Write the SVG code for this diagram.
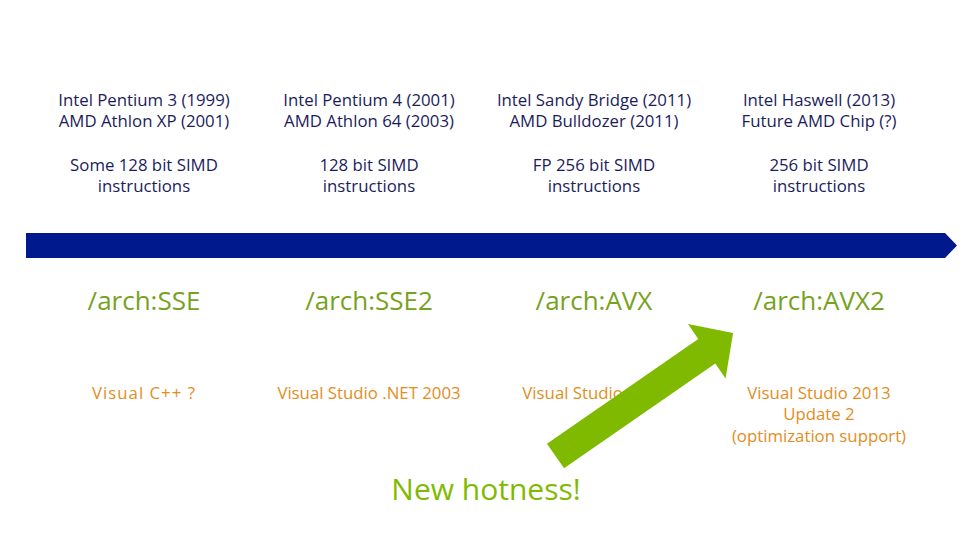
<svg xmlns="http://www.w3.org/2000/svg" width="979" height="551" viewBox="0 0 979 551">
<style>
text{font-family:"Open Sans","Noto Sans","Liberation Sans",sans-serif;text-anchor:middle}
.cpu{font-size:16.8px;fill:#1c1c5c}
.arch{font-size:26px;fill:#76a21e}
.vs{font-size:16.8px;fill:#e38d1c}
.hot{font-size:30px;fill:#7fba00}
</style>
<rect width="979" height="551" fill="#ffffff"/>
<g id="timeline">
<polygon points="26,233 945,233 957,245.5 945,258 26,258" fill="#00198c"/>
</g>
<g id="col1">
<text class="cpu" x="144" y="106">Intel Pentium 3 (1999)</text>
<text class="cpu" x="144" y="127">AMD Athlon XP (2001)</text>
<text class="cpu" x="144" y="171">Some 128 bit SIMD</text>
<text class="cpu" x="144" y="192">instructions</text>
<text class="arch" x="144" y="310">/arch:SSE</text>
<text class="vs" x="144" y="399" letter-spacing="1">Visual C++ ?</text>
</g>
<g id="col2">
<text class="cpu" x="369" y="106">Intel Pentium 4 (2001)</text>
<text class="cpu" x="369" y="127">AMD Athlon 64 (2003)</text>
<text class="cpu" x="369" y="171">128 bit SIMD</text>
<text class="cpu" x="369" y="192">instructions</text>
<text class="arch" x="369" y="310">/arch:SSE2</text>
<text class="vs" x="369" y="399">Visual Studio .NET 2003</text>
</g>
<g id="col3">
<text class="cpu" x="594" y="106">Intel Sandy Bridge (2011)</text>
<text class="cpu" x="594" y="127">AMD Bulldozer (2011)</text>
<text class="cpu" x="594" y="171">FP 256 bit SIMD</text>
<text class="cpu" x="594" y="192">instructions</text>
<text class="arch" x="594" y="310">/arch:AVX</text>
<text class="vs" x="594" y="399">Visual Studio 2012</text>
</g>
<g id="col4">
<text class="cpu" x="819" y="106">Intel Haswell (2013)</text>
<text class="cpu" x="819" y="127">Future AMD Chip (?)</text>
<text class="cpu" x="819" y="171">256 bit SIMD</text>
<text class="cpu" x="819" y="192">instructions</text>
<text class="arch" x="819" y="310">/arch:AVX2</text>
<text class="vs" x="819" y="399">Visual Studio 2013</text>
<text class="vs" x="819" y="420">Update 2</text>
<text class="vs" x="819" y="442">(optimization support)</text>
</g>
<g id="connectors">
<polygon transform="translate(555.5,456) rotate(-34.7)" points="0,-15 184,-15 184,-33 216,0 184,33 184,15 0,15" fill="#7fba00"/>
</g>
<g id="hotness">
<text class="hot" x="486" y="500">New hotness!</text>
</g>
</svg>
